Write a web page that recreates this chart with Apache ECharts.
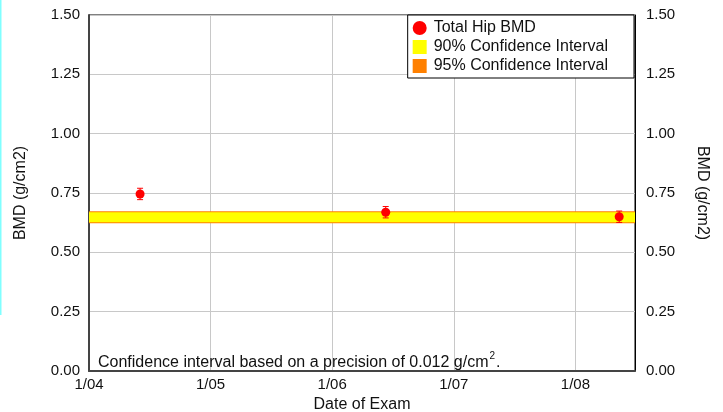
<!DOCTYPE html>
<html>
<head>
<meta charset="utf-8">
<script src="https://cdn.jsdelivr.net/npm/echarts@6/dist/echarts.min.js"></script>
<style>
  html, body { margin: 0; padding: 0; background: #fff; }
  #chart { width: 723px; height: 412px; }
</style>
</head>
<body>
<div id="chart"></div>
<script>
// exam dates as decimal years
const examYears = [2004.42, 2006.44, 2008.36];
const bmdValues = [0.746, 0.669, 0.650];
const bmdErrors = [0.024, 0.024, 0.024];

// confidence bands around the baseline [low, high]
const band90 = [0.627, 0.669];
const band95 = [0.623, 0.673];

const xMin = 2004;
const xMax = 2008.49;
const yTicks = ['0.00', '0.25', '0.50', '0.75', '1.00', '1.25', '1.50'];

const FONT = 'Liberation Sans, Arial, sans-serif';
const TXT = '#111';

// band drawn as a rect across the whole plot
function renderBand(params, api) {
    const lo = api.coord([xMin, api.value(0)]);
    const hi = api.coord([xMax, api.value(1)]);
    const cs = params.coordSys;
    return {
        type: 'rect',
        shape: { x: cs.x, y: hi[1], width: cs.width, height: lo[1] - hi[1] },
        style: { fill: api.visual('color') }
    };
}

function renderError(params, api) {
    const x = api.value(0);
    const top = api.coord([x, api.value(2)]);
    const bot = api.coord([x, api.value(1)]);
    const cap = 3;
    const st = { stroke: '#ff0000', lineWidth: 1 };
    return {
        type: 'group',
        children: [
            { type: 'line', shape: { x1: top[0], y1: top[1], x2: bot[0], y2: bot[1] }, style: st },
            { type: 'line', shape: { x1: top[0] - cap, y1: top[1], x2: top[0] + cap, y2: top[1] }, style: st },
            { type: 'line', shape: { x1: bot[0] - cap, y1: bot[1], x2: bot[0] + cap, y2: bot[1] }, style: st }
        ]
    };
}

const chart = echarts.init(document.getElementById('chart'));

const yAxisBase = {
    type: 'value',
    min: 0,
    max: 1.5,
    interval: 0.25,
    name: 'BMD (g/cm2)',
    nameLocation: 'middle',
    nameTextStyle: { fontFamily: FONT, fontSize: 16, color: TXT },
    axisTick: { show: false },
    axisLabel: {
        fontFamily: FONT, fontSize: 15, color: TXT, margin: 9,
        formatter: v => yTicks[Math.round(v / 0.25)]
    }
};

chart.setOption({
    animation: false,
    backgroundColor: '#fff',
    grid: {
        left: 89, right: 88, top: 15, bottom: 41,
        outerBoundsMode: 'none',
        containLabel: false,
        show: true, borderColor: '#000', borderWidth: 1, backgroundColor: 'transparent'
    },
    legend: {
        orient: 'vertical',
        right: 89,
        top: 15,
        backgroundColor: '#fff',
        borderColor: '#000',
        borderWidth: 1,
        borderRadius: 0,
        padding: [5, 26, 4, 5],
        itemGap: 3,
        itemWidth: 14,
        itemHeight: 14,
        textStyle: { fontFamily: FONT, fontSize: 16, color: TXT, padding: [0, 0, 0, 2] },
        data: [
            { name: 'Total Hip BMD', icon: 'circle' },
            { name: '90% Confidence Interval', icon: 'rect' },
            { name: '95% Confidence Interval', icon: 'rect' }
        ]
    },
    xAxis: {
        type: 'value',
        min: xMin,
        max: xMax,
        interval: 1,
        name: 'Date of Exam',
        nameLocation: 'middle',
        nameGap: 26,
        nameTextStyle: { fontFamily: FONT, fontSize: 16, color: TXT },
        axisLine: { lineStyle: { color: '#444', width: 2 } },
        axisTick: { show: false },
        axisLabel: {
            fontFamily: FONT, fontSize: 15, color: TXT, margin: 6,
            showMaxLabel: false,
            formatter: v => Number.isInteger(v) ? '1/' + String(v).slice(2) : ''
        },
        splitLine: { show: true, lineStyle: { color: '#c8c8c8', width: 1 } }
    },
    yAxis: [
        Object.assign({}, yAxisBase, {
            position: 'left',
            nameGap: 60,
            axisLine: { show: true, lineStyle: { color: '#444', width: 2 } },
            splitLine: { show: true, lineStyle: { color: '#c8c8c8', width: 1 } }
        }),
        Object.assign({}, yAxisBase, {
            position: 'right',
            nameGap: 59,
            nameRotate: -90,
            axisLabel: Object.assign({}, yAxisBase.axisLabel, { margin: 11 }),
            axisLine: { show: true, lineStyle: { color: '#000', width: 1 } },
            splitLine: { show: false }
        })
    ],
    series: [
        {
            name: '95% Confidence Interval',
            type: 'custom',
            renderItem: renderBand,
            itemStyle: { color: '#ff8000' },
            data: [band95],
            encode: { y: [0, 1] },
            z: 1
        },
        {
            name: '90% Confidence Interval',
            type: 'custom',
            renderItem: renderBand,
            itemStyle: { color: '#ffff00' },
            data: [band90],
            encode: { y: [0, 1] },
            z: 2
        },
        {
            name: 'errors',
            type: 'custom',
            renderItem: renderError,
            data: examYears.map((x, i) => [x, bmdValues[i] - bmdErrors[i], bmdValues[i] + bmdErrors[i]]),
            encode: { x: 0, y: [1, 2] },
            z: 3
        },
        {
            name: 'Total Hip BMD',
            type: 'scatter',
            symbol: 'circle',
            symbolSize: 9,
            itemStyle: { color: '#ff0000', opacity: 1 },
            data: examYears.map((x, i) => [x, bmdValues[i]]),
            z: 4
        }
    ],
    graphic: [
        {
            type: 'rect',
            left: 0, top: 0,
            shape: { width: 1.5, height: 315 },
            style: { fill: '#80ffff' }
        },
        {
            type: 'text',
            left: 98, top: 351,
            style: {
                text: '{t|Confidence interval based on a precision of 0.012 g/cm}{s|2}{t|.}',
                rich: {
                    t: { fontFamily: FONT, fontSize: 16, fill: TXT, verticalAlign: 'bottom' },
                    s: { fontFamily: FONT, fontSize: 10, fill: TXT, verticalAlign: 'top', padding: [0, 1, 10, 1] }
                }
            },
            z: 10
        }
    ]
});
</script>
</body>
</html>
